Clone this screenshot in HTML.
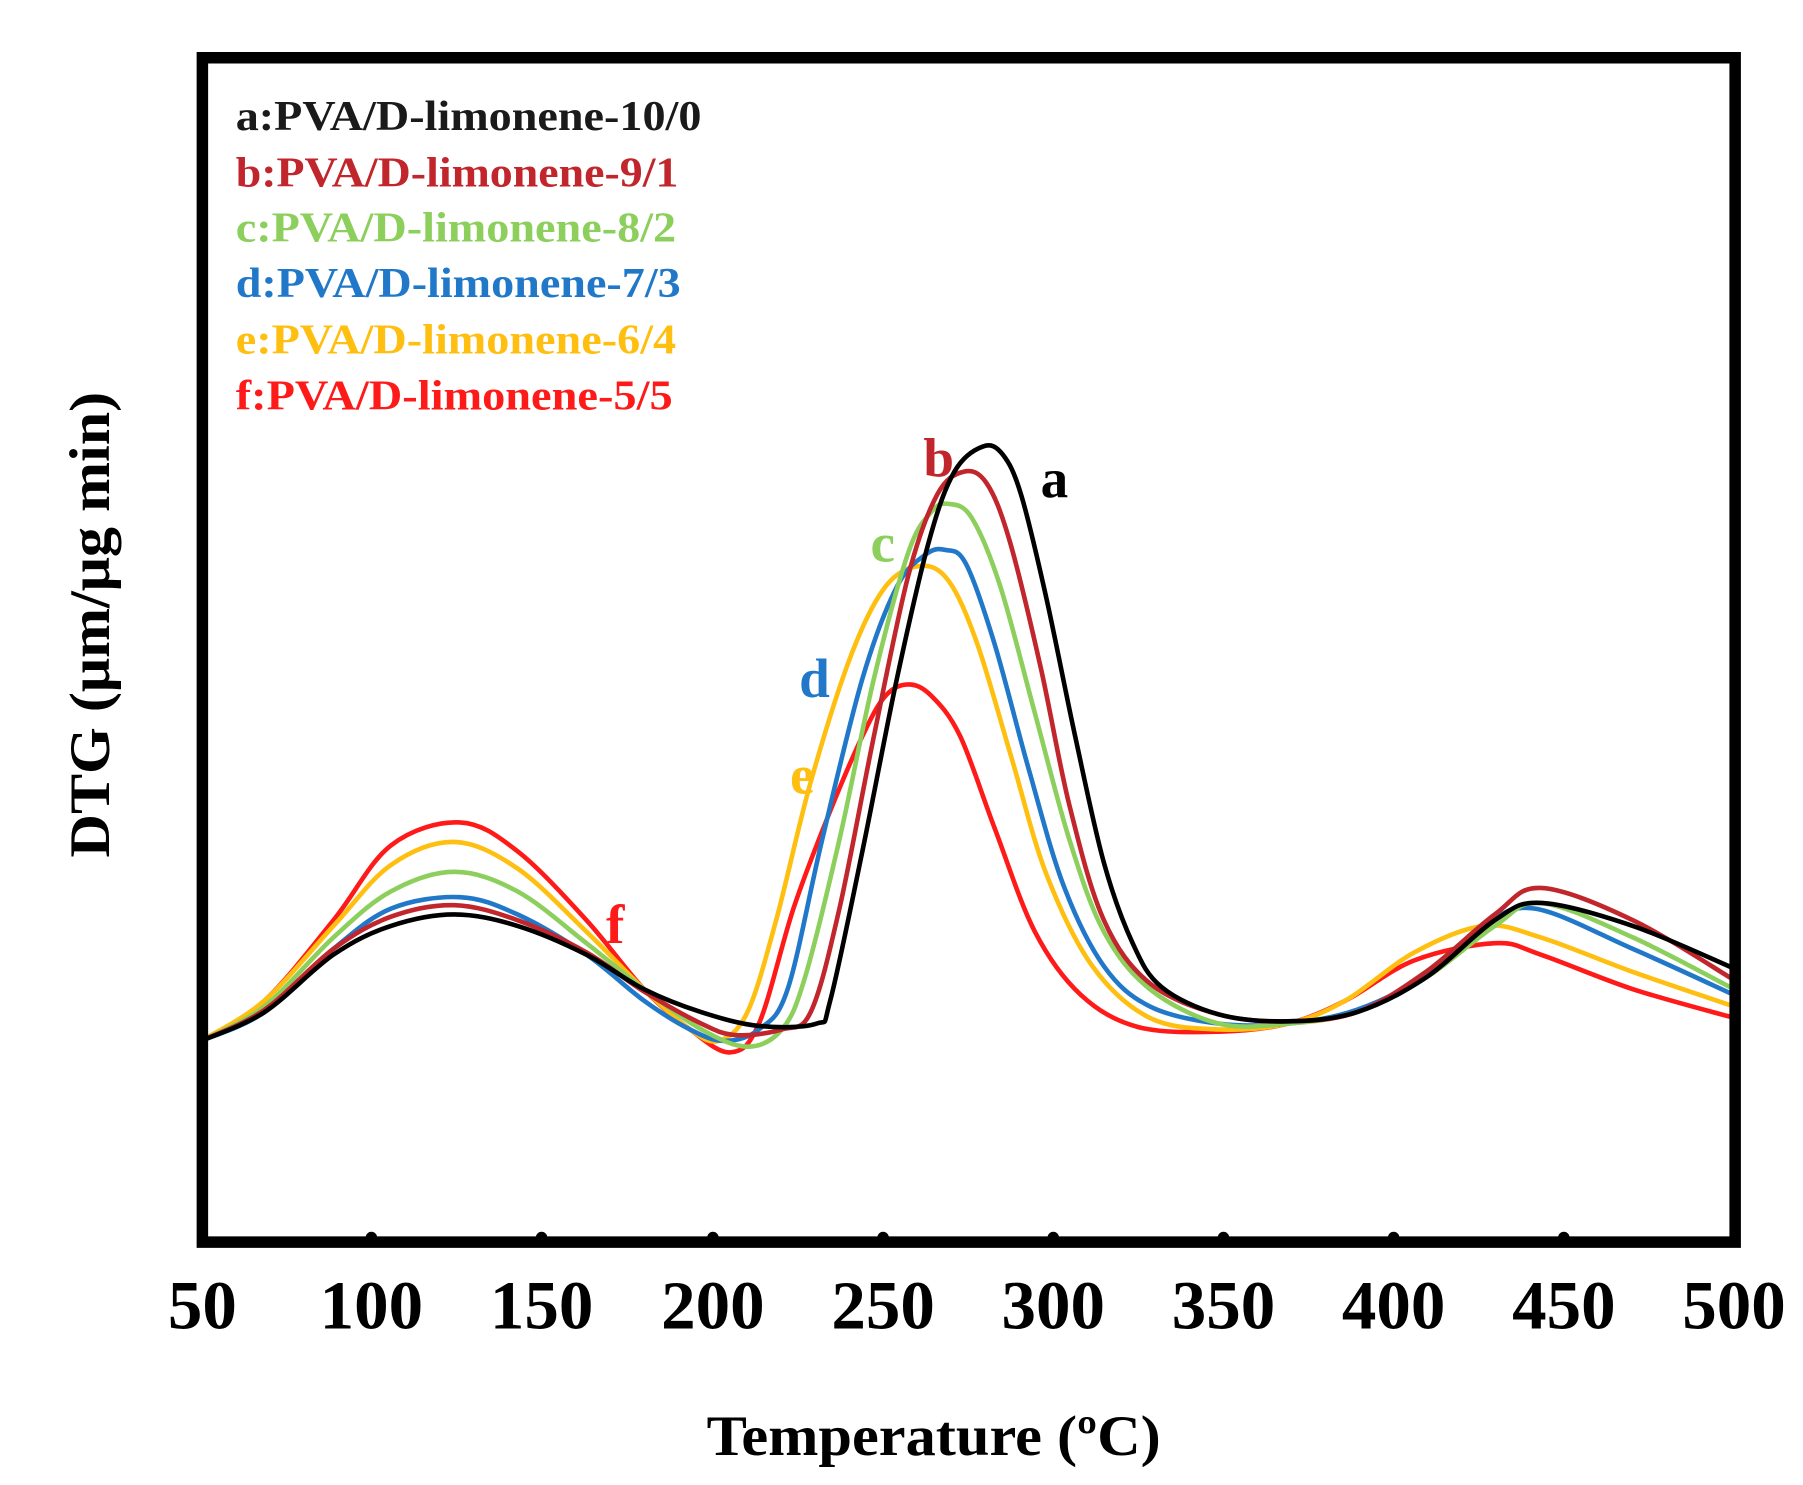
<!DOCTYPE html>
<html><head><meta charset="utf-8"><style>
html,body{margin:0;padding:0;background:#fff;}
svg{display:block}
text{font-family:"Liberation Serif",serif;font-weight:bold}
</style></head><body>
<svg id="s" width="1803" height="1485" viewBox="0 0 1568 1291" xmlns="http://www.w3.org/2000/svg">
<rect x="0" y="0" width="1568" height="1291" fill="#fff"/>
<g id="curves" fill="none" stroke-width="4" stroke-linejoin="round" stroke-linecap="round"></g>
<rect x="176" y="50" width="1333" height="1030" fill="none" stroke="#000" stroke-width="10"/>
<g fill="#000">
<circle cx="323" cy="1076" r="5"/><circle cx="471" cy="1076" r="5"/><circle cx="620" cy="1076" r="5"/><circle cx="768" cy="1076" r="5"/><circle cx="916" cy="1076" r="5"/><circle cx="1064" cy="1076" r="5"/><circle cx="1212" cy="1076" r="5"/><circle cx="1360" cy="1076" r="5"/>
</g>
<g font-size="60" text-anchor="middle" fill="#000">
<text x="176" y="1155">50</text><text x="323" y="1155">100</text><text x="471" y="1155">150</text><text x="620" y="1155">200</text><text x="768" y="1155">250</text><text x="916" y="1155">300</text><text x="1064" y="1155">350</text><text x="1212" y="1155">400</text><text x="1360" y="1155">450</text><text x="1508" y="1155">500</text>
</g>
<text x="812" y="1265" font-size="50" text-anchor="middle" textLength="395" lengthAdjust="spacingAndGlyphs">Temperature (ºC)</text>
<text transform="translate(95,543) rotate(-90)" font-size="50" text-anchor="middle" textLength="405" lengthAdjust="spacingAndGlyphs">DTG (μm/μg min)</text>
<g font-size="37">
<text x="205" y="113" fill="#1a1a1a" textLength="405" lengthAdjust="spacingAndGlyphs">a:PVA/D-limonene-10/0</text>
<text x="205" y="162" fill="#c0262c" textLength="385" lengthAdjust="spacingAndGlyphs">b:PVA/D-limonene-9/1</text>
<text x="205" y="210" fill="#8ccf5c" textLength="383" lengthAdjust="spacingAndGlyphs">c:PVA/D-limonene-8/2</text>
<text x="205" y="258" fill="#2178c8" textLength="387" lengthAdjust="spacingAndGlyphs">d:PVA/D-limonene-7/3</text>
<text x="205" y="307" fill="#ffbf10" textLength="383" lengthAdjust="spacingAndGlyphs">e:PVA/D-limonene-6/4</text>
<text x="205" y="356" fill="#ff1a1a" textLength="380" lengthAdjust="spacingAndGlyphs">f:PVA/D-limonene-5/5</text>
</g>
<g font-size="48">
<text x="905" y="432" fill="#000">a</text>
<text x="803" y="414" fill="#c0262c">b</text>
<text x="757" y="488" fill="#8ccf5c">c</text>
<text x="695" y="606" fill="#2178c8">d</text>
<text x="687" y="690" fill="#ffbf10">e</text>
<text x="527" y="820" fill="#ff1a1a">f</text>
</g>
</svg>
<script>
var S={
f:["#ff1a1a",[[175,905],[230,870],[290,800],[340,735],[400,715],[450,740],[510,800],[560,860],[600,895],[635,915],[660,890],[690,790],[720,710],[750,640],[770,605],[790,595],[810,605],[835,640],[865,720],[900,810],[940,865],[990,893],[1060,897],[1120,890],[1170,870],[1230,835],[1300,820],[1340,830],[1420,860],[1508,885]]],
e:["#ffbf10",[[175,905],[230,870],[290,805],[340,752],[395,732],[450,755],[510,810],[560,860],[600,895],[625,905],[650,880],[675,800],[705,680],[740,570],[770,510],[800,492],[825,505],[850,560],[880,660],[910,760],[950,840],[1000,885],[1060,895],[1120,890],[1170,870],[1230,828],[1290,805],[1340,815],[1420,845],[1508,875]]],
d:["#2178c8",[[175,905],[230,880],[290,825],[340,790],[400,780],[450,795],[510,830],[560,870],[600,895],[630,905],[660,895],[685,860],[715,730],[750,590],[780,510],[805,482],[822,478],[840,490],[865,560],[895,670],[925,770],[960,840],[1000,875],[1060,890],[1120,890],[1180,878],[1240,848],[1290,805],[1335,790],[1420,825],[1508,865]]],
c:["#8ccf5c",[[175,905],[230,875],[290,815],[340,775],[395,758],[450,775],[510,820],[560,860],[610,895],[650,910],[680,895],[700,850],[730,730],[760,590],[790,480],[810,445],[825,438],[845,450],[870,510],[900,620],[930,730],[960,810],[1000,860],[1060,890],[1120,890],[1180,880],[1240,850],[1300,805],[1340,785],[1420,815],[1508,860]]],
b:["#c0262c",[[175,905],[230,878],[290,825],[340,797],[395,787],[450,800],[510,828],[560,862],[610,890],[640,900],[680,895],[705,880],[730,790],[760,640],[790,500],[815,430],[838,410],[858,420],[878,470],[905,580],[930,700],[960,800],[1000,855],[1060,882],[1120,888],[1180,880],[1240,845],[1300,795],[1340,772],[1420,800],[1508,852]]],
a:["#000",[[175,905],[230,880],[290,830],[340,805],[395,795],[450,805],[510,830],[560,860],[610,880],[660,892],[710,890],[722,870],[750,740],[780,590],[808,470],[830,410],[855,388],[872,395],[888,430],[910,520],[935,640],[960,750],[985,820],[1010,858],[1060,882],[1120,888],[1180,880],[1240,850],[1300,800],[1340,785],[1420,805],[1508,842]]]
};
var g=document.getElementById('curves');
["f","e","d","c","b","a"].forEach(function(k){
 var c=S[k][0],p=S[k][1],d="M"+p[0][0]+","+p[0][1];
 for(var i=0;i<p.length-1;i++){
  var p0=p[i-1]||p[i],p1=p[i],p2=p[i+1],p3=p[i+2]||p2;
  var c1x=p1[0]+(p2[0]-p0[0])/6,c1y=p1[1]+(p2[1]-p0[1])/6;
  var c2x=p2[0]-(p3[0]-p1[0])/6,c2y=p2[1]-(p3[1]-p1[1])/6;
  d+=" C"+c1x+","+c1y+" "+c2x+","+c2y+" "+p2[0]+","+p2[1];
 }
 var e=document.createElementNS("http://www.w3.org/2000/svg","path");
 e.setAttribute("d",d);e.setAttribute("stroke",c);g.appendChild(e);
});
</script>
</body></html>
